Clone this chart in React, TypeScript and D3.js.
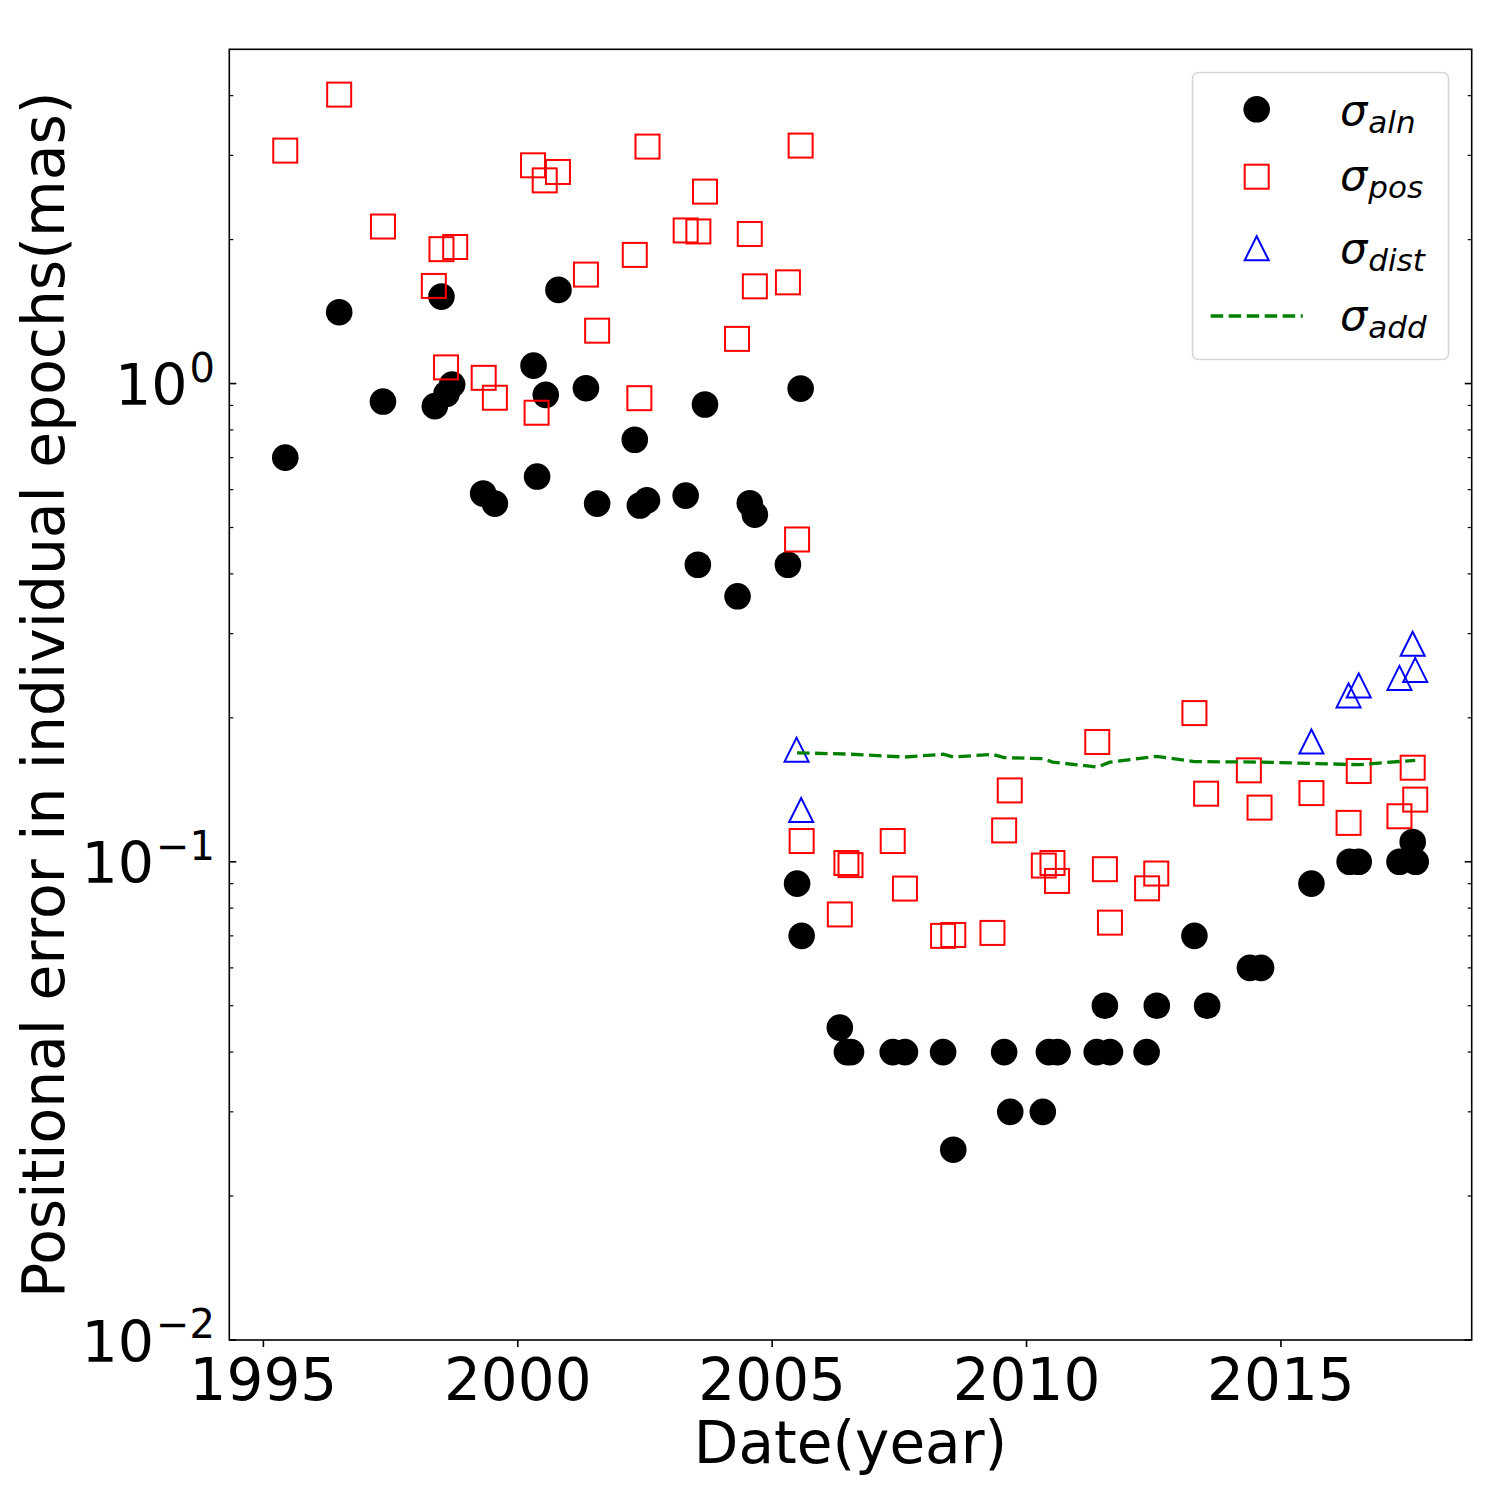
import { useRef, useEffect } from "react";
import * as d3 from "d3";

// sigma_aln (black dots)
const alnYears = [
  1995.43, 1996.49, 1997.35, 1998.37, 1998.5, 1998.6, 1998.71, 1999.32, 1999.55,
  2000.31, 2000.38, 2000.55, 2000.8, 2001.34, 2001.56, 2002.3, 2002.4, 2002.54,
  2003.3, 2003.54, 2003.68, 2004.32, 2004.56, 2004.66, 2005.31, 2005.56, 2005.49,
  2005.58, 2006.33, 2006.47, 2006.55, 2007.37, 2007.61, 2008.36, 2008.56, 2009.56,
  2009.68, 2010.32, 2010.44, 2010.61, 2011.38, 2011.54, 2011.64, 2012.36, 2012.56,
  2013.3, 2013.55, 2014.39, 2014.61, 2015.6, 2016.35, 2016.53, 2017.33, 2017.59,
  2017.65,
];
const alnValues = [
  0.7, 1.41, 0.917, 0.897, 1.52, 0.952, 0.995, 0.589, 0.561, 1.09, 0.639, 0.947,
  1.57, 0.978, 0.561, 0.763, 0.556, 0.57, 0.583, 0.418, 0.904, 0.359, 0.562, 0.532,
  0.418, 0.976, 0.09, 0.07, 0.045, 0.04, 0.04, 0.04, 0.04, 0.04, 0.025, 0.04, 0.03,
  0.03, 0.04, 0.04, 0.04, 0.05, 0.04, 0.04, 0.05, 0.07, 0.05, 0.06, 0.06, 0.09, 0.1,
  0.1, 0.1, 0.11, 0.1,
];

// sigma_pos (red squares)
const posYears = [
  1995.43, 1996.49, 1997.35, 1998.35, 1998.5, 1998.77, 1998.59, 1999.33, 1999.55,
  2000.3, 2000.37, 2000.53, 2000.79, 2001.34, 2001.56, 2002.3, 2002.39, 2002.55,
  2003.3, 2003.55, 2003.68, 2004.31, 2004.56, 2004.66, 2005.31, 2005.49, 2005.56,
  2005.58, 2006.33, 2006.46, 2006.54, 2007.37, 2007.61, 2008.36, 2008.56, 2009.33,
  2009.56, 2009.67, 2010.34, 2010.51, 2010.6, 2011.39, 2011.54, 2011.64, 2012.37,
  2012.55, 2013.3, 2013.53, 2014.37, 2014.58, 2015.6, 2016.33, 2016.53, 2017.33,
  2017.59, 2017.64,
];
const posValues = [
  3.07, 4.02, 2.13, 1.6, 1.91, 1.93, 1.081, 1.028, 0.934, 2.86, 0.869, 2.66, 2.77,
  1.69, 1.29, 1.858, 0.932, 3.13, 2.09, 2.08, 2.52, 1.24, 2.055, 1.597, 1.628, 0.472,
  3.145, 0.1105, 0.0776, 0.0994, 0.0984, 0.1105, 0.0879, 0.07, 0.0703, 0.071, 0.1163,
  0.141, 0.0982, 0.0994, 0.0912, 0.178, 0.0965, 0.0746, 0.088, 0.0945, 0.2046,
  0.1388, 0.1553, 0.1298, 0.1392, 0.1206, 0.1548, 0.1245, 0.1573, 0.1349,
];

// sigma_dist (blue triangles)
const distYears = [2005.48, 2005.57, 2015.6, 2016.33, 2016.53, 2017.33, 2017.59, 2017.64];
const distValues = [0.1716, 0.1283, 0.1784, 0.2228, 0.2338, 0.2424, 0.2858, 0.2519];

// sigma_add (green dashed line)
const addYears = [
  2005.49, 2006.46, 2007.61, 2008.36, 2008.56, 2009.33, 2009.56, 2010.34, 2010.51,
  2011.39, 2011.64, 2012.55, 2013.3, 2014.58, 2016.53, 2017.64,
];
const addValues = [
  0.169, 0.168, 0.1656, 0.1678, 0.1656, 0.1678, 0.1651, 0.1643, 0.1616, 0.1578,
  0.1616, 0.1661, 0.162, 0.1616, 0.1596, 0.163,
];

const xTicks = [1995, 2000, 2005, 2010, 2015];
const yTicks = [0.01, 0.1, 1];
const yTickExponents = ["−2", "−1", "0"];
const legendSubs = ["aln", "pos", "dist", "add"];

const FONT = "DejaVu Sans, sans-serif";

const App = () => {
  const svgRef = useRef(null);

  useEffect(() => {
    const svg = d3.select(svgRef.current);
    svg.selectAll("*").remove();

    const left = 229.3, right = 1471.7, top = 49.3, bottom = 1340;

    const x = d3.scaleLinear().domain([1994.33, 2018.75]).range([left, right]);
    const y = d3.scaleLog().domain([0.01, 5]).range([bottom, top]);

    svg.append("rect").attr("width", 1500).attr("height", 1500).attr("fill", "white");

    // y ticks (inward, both sides)
    const minor = y.ticks().filter((v) => Math.abs(Math.log10(v) - Math.round(Math.log10(v))) > 1e-6 && v < 4.99);
    const tickG = svg.append("g").attr("stroke", "black");
    minor.forEach((v) => {
      tickG.append("line").attr("x1", left).attr("x2", left + 4).attr("y1", y(v)).attr("y2", y(v)).attr("stroke-width", 1.2);
      tickG.append("line").attr("x1", right).attr("x2", right - 4).attr("y1", y(v)).attr("y2", y(v)).attr("stroke-width", 1.2);
    });
    yTicks.forEach((v) => {
      tickG.append("line").attr("x1", left).attr("x2", left + 7).attr("y1", y(v)).attr("y2", y(v)).attr("stroke-width", 1.6);
      tickG.append("line").attr("x1", right).attr("x2", right - 7).attr("y1", y(v)).attr("y2", y(v)).attr("stroke-width", 1.6);
    });
    // x ticks (outward)
    xTicks.forEach((t) => {
      tickG.append("line").attr("x1", x(t)).attr("x2", x(t)).attr("y1", bottom).attr("y2", bottom + 7).attr("stroke-width", 1.6);
    });

    // tick labels
    xTicks.forEach((t) => {
      svg.append("text").attr("x", x(t)).attr("y", 1400).attr("text-anchor", "middle")
        .attr("font-family", FONT).attr("font-size", 58).text(t);
    });
    yTicks.forEach((v, i) => {
      const t = svg.append("text").attr("x", 215).attr("y", y(v) + 21.7).attr("text-anchor", "end")
        .attr("font-family", FONT).attr("font-size", 57);
      t.append("tspan").text("10");
      t.append("tspan").attr("dx", 2).attr("dy", -23.3).attr("font-size", 40).text(yTickExponents[i]);
    });

    // axis labels
    svg.append("text").attr("x", (left + right) / 2).attr("y", 1463).attr("text-anchor", "middle")
      .attr("font-family", FONT).attr("font-size", 58).text("Date(year)");
    svg.append("text").attr("transform", `translate(64,${(top + bottom) / 2}) rotate(-90)`)
      .attr("text-anchor", "middle").attr("font-family", FONT).attr("font-size", 58.3)
      .text("Positional error in individual epochs(mas)");

    const plot = svg.append("g");

    // sigma_aln
    plot.selectAll(".aln").data(alnYears).enter().append("circle")
      .attr("cx", (d) => x(d)).attr("cy", (d, i) => y(alnValues[i]))
      .attr("r", 13.3).attr("fill", "black");

    // sigma_pos
    plot.selectAll(".pos").data(posYears).enter().append("rect")
      .attr("x", (d) => x(d) - 12).attr("y", (d, i) => y(posValues[i]) - 12)
      .attr("width", 24).attr("height", 24)
      .attr("fill", "none").attr("stroke", "red").attr("stroke-width", 2);

    // sigma_dist
    const tri = (cx, cy, s) => `M${cx},${cy - s}L${cx - s},${cy + s}L${cx + s},${cy + s}Z`;
    plot.selectAll(".dist").data(distYears).enter().append("path")
      .attr("d", (d, i) => tri(x(d), y(distValues[i]), 12))
      .attr("fill", "none").attr("stroke", "blue").attr("stroke-width", 2);

    // sigma_add
    const line = d3.line().x((d) => x(d[0])).y((d) => y(d[1]));
    plot.append("path").attr("d", line(addYears.map((d, i) => [d, addValues[i]])))
      .attr("fill", "none").attr("stroke", "green").attr("stroke-width", 3.3)
      .attr("stroke-dasharray", "12.5,5.5");

    // frame
    svg.append("rect").attr("x", left).attr("y", top).attr("width", right - left).attr("height", bottom - top)
      .attr("fill", "none").attr("stroke", "black").attr("stroke-width", 1.6);

    // legend
    const lg = svg.append("g");
    lg.append("rect").attr("x", 1192.5).attr("y", 72.5).attr("width", 256).attr("height", 287).attr("rx", 6)
      .attr("fill", "white").attr("fill-opacity", 0.8).attr("stroke", "#d6d6d6").attr("stroke-width", 1.6);
    const mx = 1256.7;
    lg.append("circle").attr("cx", mx).attr("cy", 109.3).attr("r", 13.3).attr("fill", "black");
    lg.append("rect").attr("x", mx - 12).attr("y", 176.7 - 12).attr("width", 24).attr("height", 24)
      .attr("fill", "none").attr("stroke", "red").attr("stroke-width", 2);
    lg.append("path").attr("d", tri(mx, 248.3, 12)).attr("fill", "none").attr("stroke", "blue").attr("stroke-width", 2);
    lg.append("line").attr("x1", 1210.7).attr("x2", 1302.7).attr("y1", 316).attr("y2", 316)
      .attr("stroke", "green").attr("stroke-width", 3.3).attr("stroke-dasharray", "12.5,5.5");
    const baselines = [125, 190, 263.3, 330];
    legendSubs.forEach((s, i) => {
      const t = lg.append("text").attr("x", 1340).attr("y", baselines[i])
        .attr("font-family", FONT).attr("font-style", "italic").attr("font-size", 43);
      t.append("tspan").text("σ");
      t.append("tspan").attr("dx", 1).attr("dy", 7.5).attr("font-size", 31).text(s);
    });
  }, []);

  return (
    <svg
      ref={svgRef}
      width={1500}
      height={1500}
      style={{ position: "absolute", left: 0, top: 0 }}
    ></svg>
  );
};

export default App;
